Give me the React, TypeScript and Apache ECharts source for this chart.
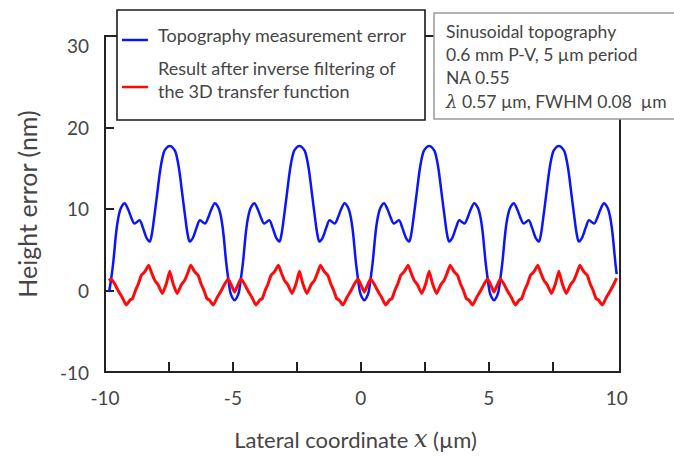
import React, { useEffect, useRef } from 'react';
import * as echarts from 'echarts';

// Blue: topography measurement error, [x (µm), height error (nm)]
const topographyError: [number, number][] = [
  [-9.84, -0.2], [-9.755, 1.5], [-9.675, 3.5], [-9.545, 7.6], [-9.415, 9.8], [-9.235, 10.7],
  [-9.09, 9.9], [-8.97, 8.9], [-8.845, 8.2], [-8.655, 8.6], [-8.52, 7.7], [-8.37, 6.4],
  [-8.25, 6.0], [-8.17, 6.9], [-8.1, 8.4], [-7.97, 11.6], [-7.835, 14.9], [-7.705, 16.9],
  [-7.59, 17.5], [-7.47, 17.7], [-7.35, 17.5], [-7.235, 16.9], [-7.105, 14.9], [-6.97, 11.6],
  [-6.84, 8.4], [-6.77, 6.9], [-6.69, 6.0], [-6.57, 6.4], [-6.42, 7.7], [-6.285, 8.6],
  [-6.095, 8.2], [-5.97, 8.9], [-5.85, 9.9], [-5.705, 10.7], [-5.525, 9.8], [-5.395, 7.6],
  [-5.265, 3.5], [-5.185, 1.5], [-5.105, -0.2], [-5.02, -0.9], [-4.935, -1.2],
  [-4.85, -0.9], [-4.765, -0.2], [-4.685, 1.5], [-4.605, 3.5], [-4.475, 7.6], [-4.345, 9.8],
  [-4.165, 10.7], [-4.02, 9.9], [-3.9, 8.9], [-3.775, 8.2], [-3.585, 8.6], [-3.45, 7.7],
  [-3.3, 6.4], [-3.18, 6.0], [-3.1, 6.9], [-3.03, 8.4], [-2.9, 11.6], [-2.765, 14.9],
  [-2.635, 16.9], [-2.52, 17.5], [-2.4, 17.7], [-2.28, 17.5], [-2.165, 16.9], [-2.035, 14.9],
  [-1.9, 11.6], [-1.77, 8.4], [-1.7, 6.9], [-1.62, 6.0], [-1.5, 6.4], [-1.35, 7.7],
  [-1.215, 8.6], [-1.025, 8.2], [-0.9, 8.9], [-0.78, 9.9], [-0.635, 10.7], [-0.455, 9.8],
  [-0.325, 7.6], [-0.195, 3.5], [-0.115, 1.5], [-0.035, -0.2], [0.05, -0.9], [0.135, -1.2],
  [0.22, -0.9], [0.305, -0.2], [0.385, 1.5], [0.465, 3.5], [0.595, 7.6], [0.725, 9.8],
  [0.905, 10.7], [1.05, 9.9], [1.17, 8.9], [1.295, 8.2], [1.485, 8.6], [1.62, 7.7],
  [1.77, 6.4], [1.89, 6.0], [1.97, 6.9], [2.04, 8.4], [2.17, 11.6], [2.305, 14.9],
  [2.435, 16.9], [2.55, 17.5], [2.67, 17.7], [2.79, 17.5], [2.905, 16.9], [3.035, 14.9],
  [3.17, 11.6], [3.3, 8.4], [3.37, 6.9], [3.45, 6.0], [3.57, 6.4], [3.72, 7.7],
  [3.855, 8.6], [4.045, 8.2], [4.17, 8.9], [4.29, 9.9], [4.435, 10.7], [4.615, 9.8],
  [4.745, 7.6], [4.875, 3.5], [4.955, 1.5], [5.035, -0.2], [5.12, -0.9], [5.205, -1.2],
  [5.29, -0.9], [5.375, -0.2], [5.455, 1.5], [5.535, 3.5], [5.665, 7.6], [5.795, 9.8],
  [5.975, 10.7], [6.12, 9.9], [6.24, 8.9], [6.365, 8.2], [6.555, 8.6], [6.69, 7.7],
  [6.84, 6.4], [6.96, 6.0], [7.04, 6.9], [7.11, 8.4], [7.24, 11.6], [7.375, 14.9],
  [7.505, 16.9], [7.62, 17.5], [7.74, 17.7], [7.86, 17.5], [7.975, 16.9], [8.105, 14.9],
  [8.24, 11.6], [8.37, 8.4], [8.44, 6.9], [8.52, 6.0], [8.64, 6.4], [8.79, 7.7],
  [8.925, 8.6], [9.115, 8.2], [9.24, 8.9], [9.36, 9.9], [9.505, 10.7], [9.685, 9.8],
  [9.815, 7.6], [9.945, 3.5], [10.0, 2.0],
];

// Red: result after inverse filtering of the 3D transfer function
const inverseFiltered: [number, number][] = [
  [-9.85, 1.2], [-9.76, 1.4], [-9.63, 0.85], [-9.47, -0.1], [-9.34, -0.77], [-9.17, -1.79],
  [-9.02, -1.18], [-8.92, -0.98], [-8.81, 0.0], [-8.69, 0.85], [-8.58, 1.87], [-8.45, 2.27],
  [-8.29, 3.09], [-8.19, 2.27], [-8.06, 1.26], [-7.93, 0.73], [-7.76, -0.37], [-7.6, 0.85],
  [-7.47, 2.35], [-7.34, 0.85], [-7.18, -0.37], [-7.01, 0.73], [-6.88, 1.26], [-6.75, 2.27],
  [-6.65, 3.09], [-6.49, 2.27], [-6.36, 1.87], [-6.25, 0.85], [-6.13, 0.0], [-6.02, -0.98],
  [-5.92, -1.18], [-5.77, -1.79], [-5.6, -0.77], [-5.47, -0.1], [-5.31, 0.85], [-5.18, 1.4],
  [-5.06, 0.65], [-4.935, -0.2],
  [-4.81, 0.65], [-4.69, 1.4], [-4.56, 0.85], [-4.4, -0.1], [-4.27, -0.77], [-4.1, -1.79],
  [-3.95, -1.18], [-3.85, -0.98], [-3.74, 0.0], [-3.62, 0.85], [-3.51, 1.87], [-3.38, 2.27],
  [-3.22, 3.09], [-3.12, 2.27], [-2.99, 1.26], [-2.86, 0.73], [-2.69, -0.37], [-2.53, 0.85],
  [-2.4, 2.35], [-2.27, 0.85], [-2.11, -0.37], [-1.94, 0.73], [-1.81, 1.26], [-1.68, 2.27],
  [-1.58, 3.09], [-1.42, 2.27], [-1.29, 1.87], [-1.18, 0.85], [-1.06, 0.0], [-0.95, -0.98],
  [-0.85, -1.18], [-0.7, -1.79], [-0.53, -0.77], [-0.4, -0.1], [-0.24, 0.85], [-0.11, 1.4],
  [0.01, 0.65], [0.135, -0.2],
  [0.26, 0.65], [0.38, 1.4], [0.51, 0.85], [0.67, -0.1], [0.8, -0.77], [0.97, -1.79],
  [1.12, -1.18], [1.22, -0.98], [1.33, 0.0], [1.45, 0.85], [1.56, 1.87], [1.69, 2.27],
  [1.85, 3.09], [1.95, 2.27], [2.08, 1.26], [2.21, 0.73], [2.38, -0.37], [2.54, 0.85],
  [2.67, 2.35], [2.8, 0.85], [2.96, -0.37], [3.13, 0.73], [3.26, 1.26], [3.39, 2.27],
  [3.49, 3.09], [3.65, 2.27], [3.78, 1.87], [3.89, 0.85], [4.01, 0.0], [4.12, -0.98],
  [4.22, -1.18], [4.37, -1.79], [4.54, -0.77], [4.67, -0.1], [4.83, 0.85], [4.96, 1.4],
  [5.08, 0.65], [5.205, -0.2],
  [5.33, 0.65], [5.45, 1.4], [5.58, 0.85], [5.74, -0.1], [5.87, -0.77], [6.04, -1.79],
  [6.19, -1.18], [6.29, -0.98], [6.4, 0.0], [6.52, 0.85], [6.63, 1.87], [6.76, 2.27],
  [6.92, 3.09], [7.02, 2.27], [7.15, 1.26], [7.28, 0.73], [7.45, -0.37], [7.61, 0.85],
  [7.74, 2.35], [7.87, 0.85], [8.03, -0.37], [8.2, 0.73], [8.33, 1.26], [8.46, 2.27],
  [8.56, 3.09], [8.72, 2.27], [8.85, 1.87], [8.96, 0.85], [9.08, 0.0], [9.19, -0.98],
  [9.29, -1.18], [9.44, -1.79], [9.61, -0.77], [9.74, -0.1], [9.9, 0.85], [10.0, 1.5],
];

const xLabelValues = [-10, -5, 0, 5, 10];
const xTickValues = [-7.5, -5, -2.5, 0, 2.5, 5, 7.5];
const yLabelValues = [-10, 0, 10, 20, 30];
const yTickValues = [0, 10, 20];

const seriesNames = ['Topography measurement error', 'Result after inverse filtering of', 'the 3D transfer function'];
const infoLines = ['Sinusoidal topography', '0.6 mm P-V, 5 µm period', 'NA 0.55'];

const FONT = 'Lato';
const TEXT = '#454545';

export default function App() {
  const ref = useRef<HTMLDivElement>(null);
  useEffect(() => {
    if (!ref.current) return;
    const chart = echarts.init(ref.current, undefined, { renderer: 'svg' });
    chart.setOption({
      animation: false,
      backgroundColor: '#fff',
      grid: { left: 105, right: 54, top: 36, bottom: 82, show: true, borderColor: '#222', borderWidth: 2 },
      xAxis: {
        type: 'value', min: -10, max: 10.13,
        name: 'Lateral coordinate {i|x} (µm)', nameLocation: 'middle', nameGap: 55,
        nameTextStyle: { fontFamily: FONT, fontSize: 22, color: TEXT, padding: [0, 14, 0, 0],
          rich: { i: { fontFamily: 'DejaVu Serif', fontStyle: 'italic', fontSize: 24, color: TEXT } } },
        axisLine: { show: true, onZero: false, lineStyle: { color: '#222', width: 2 } },
        axisTick: { show: true, inside: true, length: 10, customValues: xTickValues, lineStyle: { color: '#222', width: 2 } },
        axisLabel: { customValues: xLabelValues, margin: 16, fontFamily: FONT, fontSize: 19, color: TEXT },
        splitLine: { show: false },
      },
      yAxis: {
        type: 'value', min: -10, max: 31.2,
        name: 'Height error (nm)', nameLocation: 'middle', nameGap: 66, nameRotate: 90,
        nameTextStyle: { fontFamily: FONT, fontSize: 25, color: TEXT },
        axisLine: { show: true, onZero: false, lineStyle: { color: '#222', width: 2 } },
        axisTick: { show: true, inside: true, length: 9, customValues: yTickValues, lineStyle: { color: '#222', width: 2 } },
        axisLabel: { customValues: yLabelValues, margin: 16, fontFamily: FONT, fontSize: 19, color: TEXT },
        splitLine: { show: false },
      },
      series: [
        { name: seriesNames[0], type: 'line', data: topographyError, showSymbol: false, symbol: 'none', smooth: 0.3,
          lineStyle: { color: '#0a14ff', width: 2.5 }, z: 3 },
        { name: seriesNames[1] + ' ' + seriesNames[2], type: 'line', data: inverseFiltered, showSymbol: false, symbol: 'none',
          smooth: 0.15, lineStyle: { color: '#ff0a0a', width: 3, join: 'round' }, z: 4 },
      ],
      graphic: [
        { type: 'rect', z: 100, shape: { x: 117, y: 10, width: 308, height: 110 },
          style: { fill: '#fff', stroke: '#1a1a1a', lineWidth: 1.6 } },
        { type: 'line', z: 101, shape: { x1: 122, y1: 40, x2: 148, y2: 40 }, style: { stroke: '#0a14ff', lineWidth: 2.5 } },
        { type: 'line', z: 101, shape: { x1: 122, y1: 87, x2: 148, y2: 87 }, style: { stroke: '#ff0a0a', lineWidth: 2.5 } },
        { type: 'text', z: 101, style: { text: seriesNames[0], x: 158, y: 35, verticalAlign: 'middle', fontFamily: FONT, fontSize: 18, fill: TEXT } },
        { type: 'text', z: 101, style: { text: seriesNames[1], x: 158, y: 68, verticalAlign: 'middle', fontFamily: FONT, fontSize: 18, fill: TEXT } },
        { type: 'text', z: 101, style: { text: seriesNames[2], x: 158, y: 91, verticalAlign: 'middle', fontFamily: FONT, fontSize: 18, fill: TEXT } },
        { type: 'rect', z: 100, shape: { x: 434, y: 13, width: 250, height: 106 },
          style: { fill: '#fff', stroke: '#9a9a9a', lineWidth: 1.5 } },
        { type: 'text', z: 101, style: { text: infoLines[0], x: 446, y: 31, verticalAlign: 'middle', fontFamily: FONT, fontSize: 17.5, fill: TEXT } },
        { type: 'text', z: 101, style: { text: infoLines[1], x: 446, y: 54, verticalAlign: 'middle', fontFamily: FONT, fontSize: 17.5, fill: TEXT } },
        { type: 'text', z: 101, style: { text: infoLines[2], x: 446, y: 77, verticalAlign: 'middle', fontFamily: FONT, fontSize: 17.5, fill: TEXT } },
        { type: 'text', z: 101, style: { text: '{l|λ} 0.57 µm, FWHM 0.08  µm', x: 446, y: 101, verticalAlign: 'middle',
          fontFamily: FONT, fontSize: 17.5, fill: TEXT,
          rich: { l: { fontFamily: 'DejaVu Serif', fontStyle: 'italic', fontSize: 18, fill: TEXT } } } },
      ],
    });
    return () => chart.dispose();
  }, []);
  return <div ref={ref} style={{ position: 'absolute', left: 0, top: 0, width: 674, height: 456 }} />;
}
